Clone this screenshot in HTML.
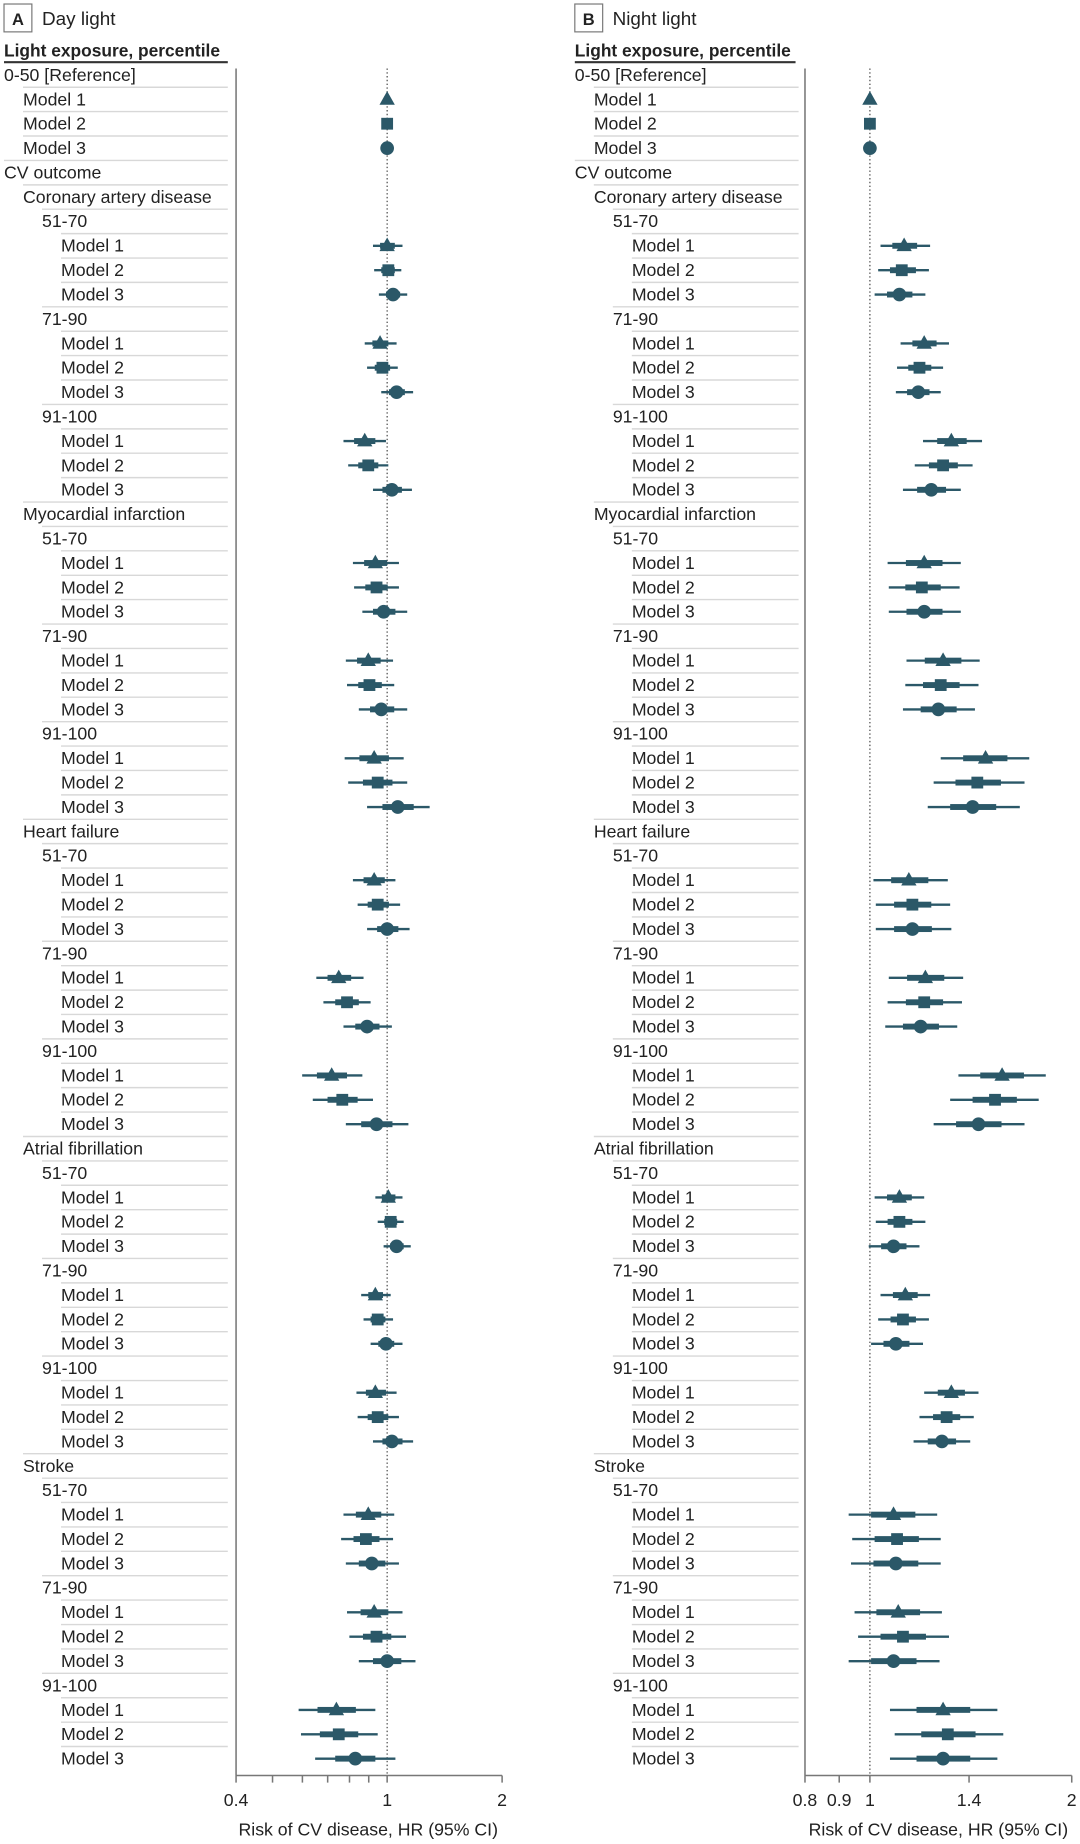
<!DOCTYPE html>
<html><head><meta charset="utf-8"><style>
html,body{margin:0;padding:0;background:#fff;}
svg{display:block;}
text{font-family:"Liberation Sans",sans-serif;font-size:15px;fill:#222;}
.sep{stroke:#d8d8d8;stroke-width:1.2;}
.ci{stroke:#2b5868;stroke-width:2;}
.th{fill:#2b5868;}
.ax{stroke:#777;stroke-width:1.3;fill:none;}
</style></head><body>
<svg width="1080" height="1844" viewBox="0 0 915 1562" preserveAspectRatio="none" xmlns="http://www.w3.org/2000/svg">
<defs>
<polygon id="tri" points="0,-7 6.5,4.5 -6.5,4.5" fill="#2b5868"/>
<rect id="sq" x="-5" y="-5" width="10" height="10" fill="#2b5868"/>
<circle id="ci" r="5.8" fill="#2b5868"/>
</defs>

<!-- Panel A header -->
<rect x="3.4" y="3.4" width="23.6" height="23.6" fill="#fff" stroke="#777" stroke-width="1"/>
<text x="15.2" y="21" text-anchor="middle" style="font-weight:bold;font-size:14px">A</text>
<text x="35.6" y="21" style="font-size:16px">Day light</text>
<text x="3.4" y="48" style="font-weight:bold" textLength="183" lengthAdjust="spacingAndGlyphs">Light exposure, percentile</text>
<line x1="3.4" y1="52.7" x2="193" y2="52.7" stroke="#333" stroke-width="1.8"/>

<!-- Panel B header -->
<rect x="487" y="3.4" width="23.6" height="23.6" fill="#fff" stroke="#777" stroke-width="1"/>
<text x="498.8" y="21" text-anchor="middle" style="font-weight:bold;font-size:14px">B</text>
<text x="519" y="21" style="font-size:16px">Night light</text>
<text x="487" y="48" style="font-weight:bold" textLength="183" lengthAdjust="spacingAndGlyphs">Light exposure, percentile</text>
<line x1="487" y1="52.7" x2="674" y2="52.7" stroke="#333" stroke-width="1.8"/>

<!-- Panel A labels -->
<g>
<text x="3.4" y="68.5">0-50 [Reference]</text>
<text x="19.5" y="89.2">Model 1</text><text x="19.5" y="109.8">Model 2</text><text x="19.5" y="130.5">Model 3</text>
<text x="3.4" y="151.2">CV outcome</text>
<text x="19.5" y="171.9">Coronary artery disease</text>
<text x="35.6" y="192.5">51-70</text>
<text x="51.7" y="213.2">Model 1</text><text x="51.7" y="233.9">Model 2</text><text x="51.7" y="254.5">Model 3</text>
<text x="35.6" y="275.2">71-90</text>
<text x="51.7" y="295.9">Model 1</text><text x="51.7" y="316.5">Model 2</text><text x="51.7" y="337.2">Model 3</text>
<text x="35.6" y="357.9">91-100</text>
<text x="51.7" y="378.6">Model 1</text><text x="51.7" y="399.2">Model 2</text><text x="51.7" y="419.9">Model 3</text>
<text x="19.5" y="440.6">Myocardial infarction</text>
<text x="35.6" y="461.2">51-70</text>
<text x="51.7" y="481.9">Model 1</text><text x="51.7" y="502.6">Model 2</text><text x="51.7" y="523.2">Model 3</text>
<text x="35.6" y="543.9">71-90</text>
<text x="51.7" y="564.6">Model 1</text><text x="51.7" y="585.3">Model 2</text><text x="51.7" y="605.9">Model 3</text>
<text x="35.6" y="626.6">91-100</text>
<text x="51.7" y="647.3">Model 1</text><text x="51.7" y="667.9">Model 2</text><text x="51.7" y="688.6">Model 3</text>
<text x="19.5" y="709.3">Heart failure</text>
<text x="35.6" y="729.9">51-70</text>
<text x="51.7" y="750.6">Model 1</text><text x="51.7" y="771.3">Model 2</text><text x="51.7" y="792">Model 3</text>
<text x="35.6" y="812.6">71-90</text>
<text x="51.7" y="833.3">Model 1</text><text x="51.7" y="854">Model 2</text><text x="51.7" y="874.6">Model 3</text>
<text x="35.6" y="895.3">91-100</text>
<text x="51.7" y="916">Model 1</text><text x="51.7" y="936.6">Model 2</text><text x="51.7" y="957.3">Model 3</text>
<text x="19.5" y="978">Atrial fibrillation</text>
<text x="35.6" y="998.7">51-70</text>
<text x="51.7" y="1019.3">Model 1</text><text x="51.7" y="1040">Model 2</text><text x="51.7" y="1060.7">Model 3</text>
<text x="35.6" y="1081.3">71-90</text>
<text x="51.7" y="1102">Model 1</text><text x="51.7" y="1122.7">Model 2</text><text x="51.7" y="1143.3">Model 3</text>
<text x="35.6" y="1164">91-100</text>
<text x="51.7" y="1184.7">Model 1</text><text x="51.7" y="1205.4">Model 2</text><text x="51.7" y="1226">Model 3</text>
<text x="19.5" y="1246.7">Stroke</text>
<text x="35.6" y="1267.4">51-70</text>
<text x="51.7" y="1288">Model 1</text><text x="51.7" y="1308.7">Model 2</text><text x="51.7" y="1329.4">Model 3</text>
<text x="35.6" y="1350">71-90</text>
<text x="51.7" y="1370.7">Model 1</text><text x="51.7" y="1391.4">Model 2</text><text x="51.7" y="1412.1">Model 3</text>
<text x="35.6" y="1432.7">91-100</text>
<text x="51.7" y="1453.4">Model 1</text><text x="51.7" y="1474.1">Model 2</text><text x="51.7" y="1494.7">Model 3</text>
</g>

<!-- Panel B labels -->
<g transform="translate(483.6,0)">
<text x="3.4" y="68.5">0-50 [Reference]</text>
<text x="19.5" y="89.2">Model 1</text><text x="19.5" y="109.8">Model 2</text><text x="19.5" y="130.5">Model 3</text>
<text x="3.4" y="151.2">CV outcome</text>
<text x="19.5" y="171.9">Coronary artery disease</text>
<text x="35.6" y="192.5">51-70</text>
<text x="51.7" y="213.2">Model 1</text><text x="51.7" y="233.9">Model 2</text><text x="51.7" y="254.5">Model 3</text>
<text x="35.6" y="275.2">71-90</text>
<text x="51.7" y="295.9">Model 1</text><text x="51.7" y="316.5">Model 2</text><text x="51.7" y="337.2">Model 3</text>
<text x="35.6" y="357.9">91-100</text>
<text x="51.7" y="378.6">Model 1</text><text x="51.7" y="399.2">Model 2</text><text x="51.7" y="419.9">Model 3</text>
<text x="19.5" y="440.6">Myocardial infarction</text>
<text x="35.6" y="461.2">51-70</text>
<text x="51.7" y="481.9">Model 1</text><text x="51.7" y="502.6">Model 2</text><text x="51.7" y="523.2">Model 3</text>
<text x="35.6" y="543.9">71-90</text>
<text x="51.7" y="564.6">Model 1</text><text x="51.7" y="585.3">Model 2</text><text x="51.7" y="605.9">Model 3</text>
<text x="35.6" y="626.6">91-100</text>
<text x="51.7" y="647.3">Model 1</text><text x="51.7" y="667.9">Model 2</text><text x="51.7" y="688.6">Model 3</text>
<text x="19.5" y="709.3">Heart failure</text>
<text x="35.6" y="729.9">51-70</text>
<text x="51.7" y="750.6">Model 1</text><text x="51.7" y="771.3">Model 2</text><text x="51.7" y="792">Model 3</text>
<text x="35.6" y="812.6">71-90</text>
<text x="51.7" y="833.3">Model 1</text><text x="51.7" y="854">Model 2</text><text x="51.7" y="874.6">Model 3</text>
<text x="35.6" y="895.3">91-100</text>
<text x="51.7" y="916">Model 1</text><text x="51.7" y="936.6">Model 2</text><text x="51.7" y="957.3">Model 3</text>
<text x="19.5" y="978">Atrial fibrillation</text>
<text x="35.6" y="998.7">51-70</text>
<text x="51.7" y="1019.3">Model 1</text><text x="51.7" y="1040">Model 2</text><text x="51.7" y="1060.7">Model 3</text>
<text x="35.6" y="1081.3">71-90</text>
<text x="51.7" y="1102">Model 1</text><text x="51.7" y="1122.7">Model 2</text><text x="51.7" y="1143.3">Model 3</text>
<text x="35.6" y="1164">91-100</text>
<text x="51.7" y="1184.7">Model 1</text><text x="51.7" y="1205.4">Model 2</text><text x="51.7" y="1226">Model 3</text>
<text x="19.5" y="1246.7">Stroke</text>
<text x="35.6" y="1267.4">51-70</text>
<text x="51.7" y="1288">Model 1</text><text x="51.7" y="1308.7">Model 2</text><text x="51.7" y="1329.4">Model 3</text>
<text x="35.6" y="1350">71-90</text>
<text x="51.7" y="1370.7">Model 1</text><text x="51.7" y="1391.4">Model 2</text><text x="51.7" y="1412.1">Model 3</text>
<text x="35.6" y="1432.7">91-100</text>
<text x="51.7" y="1453.4">Model 1</text><text x="51.7" y="1474.1">Model 2</text><text x="51.7" y="1494.7">Model 3</text>
</g>

<!-- Separators (both panels) -->
<g id="seps" class="sep">
<line x1="19.5" y1="73.9" x2="193" y2="73.9"/>
<line x1="19.5" y1="94.5" x2="193" y2="94.5"/>
<line x1="19.5" y1="115.2" x2="193" y2="115.2"/>
<line x1="3.4" y1="135.9" x2="193" y2="135.9"/>
<line x1="19.5" y1="156.6" x2="193" y2="156.6"/>
<line x1="35.6" y1="177.2" x2="193" y2="177.2"/>
<line x1="51.7" y1="197.9" x2="193" y2="197.9"/>
<line x1="51.7" y1="218.6" x2="193" y2="218.6"/>
<line x1="51.7" y1="239.2" x2="193" y2="239.2"/>
<line x1="35.6" y1="259.9" x2="193" y2="259.9"/>
<line x1="51.7" y1="280.6" x2="193" y2="280.6"/>
<line x1="51.7" y1="301.2" x2="193" y2="301.2"/>
<line x1="51.7" y1="321.9" x2="193" y2="321.9"/>
<line x1="35.6" y1="342.6" x2="193" y2="342.6"/>
<line x1="51.7" y1="363.3" x2="193" y2="363.3"/>
<line x1="51.7" y1="383.9" x2="193" y2="383.9"/>
<line x1="51.7" y1="404.6" x2="193" y2="404.6"/>
<line x1="19.5" y1="425.3" x2="193" y2="425.3"/>
<line x1="35.6" y1="445.9" x2="193" y2="445.9"/>
<line x1="51.7" y1="466.6" x2="193" y2="466.6"/>
<line x1="51.7" y1="487.3" x2="193" y2="487.3"/>
<line x1="51.7" y1="507.9" x2="193" y2="507.9"/>
<line x1="35.6" y1="528.6" x2="193" y2="528.6"/>
<line x1="51.7" y1="549.3" x2="193" y2="549.3"/>
<line x1="51.7" y1="570" x2="193" y2="570"/>
<line x1="51.7" y1="590.6" x2="193" y2="590.6"/>
<line x1="35.6" y1="611.3" x2="193" y2="611.3"/>
<line x1="51.7" y1="632" x2="193" y2="632"/>
<line x1="51.7" y1="652.6" x2="193" y2="652.6"/>
<line x1="51.7" y1="673.3" x2="193" y2="673.3"/>
<line x1="19.5" y1="694" x2="193" y2="694"/>
<line x1="35.6" y1="714.6" x2="193" y2="714.6"/>
<line x1="51.7" y1="735.3" x2="193" y2="735.3"/>
<line x1="51.7" y1="756" x2="193" y2="756"/>
<line x1="51.7" y1="776.7" x2="193" y2="776.7"/>
<line x1="35.6" y1="797.3" x2="193" y2="797.3"/>
<line x1="51.7" y1="818" x2="193" y2="818"/>
<line x1="51.7" y1="838.7" x2="193" y2="838.7"/>
<line x1="51.7" y1="859.3" x2="193" y2="859.3"/>
<line x1="35.6" y1="880" x2="193" y2="880"/>
<line x1="51.7" y1="900.7" x2="193" y2="900.7"/>
<line x1="51.7" y1="921.3" x2="193" y2="921.3"/>
<line x1="51.7" y1="942" x2="193" y2="942"/>
<line x1="19.5" y1="962.7" x2="193" y2="962.7"/>
<line x1="35.6" y1="983.4" x2="193" y2="983.4"/>
<line x1="51.7" y1="1004" x2="193" y2="1004"/>
<line x1="51.7" y1="1024.7" x2="193" y2="1024.7"/>
<line x1="51.7" y1="1045.4" x2="193" y2="1045.4"/>
<line x1="35.6" y1="1066" x2="193" y2="1066"/>
<line x1="51.7" y1="1086.7" x2="193" y2="1086.7"/>
<line x1="51.7" y1="1107.4" x2="193" y2="1107.4"/>
<line x1="51.7" y1="1128" x2="193" y2="1128"/>
<line x1="35.6" y1="1148.7" x2="193" y2="1148.7"/>
<line x1="51.7" y1="1169.4" x2="193" y2="1169.4"/>
<line x1="51.7" y1="1190.1" x2="193" y2="1190.1"/>
<line x1="51.7" y1="1210.7" x2="193" y2="1210.7"/>
<line x1="19.5" y1="1231.4" x2="193" y2="1231.4"/>
<line x1="35.6" y1="1252.1" x2="193" y2="1252.1"/>
<line x1="51.7" y1="1272.7" x2="193" y2="1272.7"/>
<line x1="51.7" y1="1293.4" x2="193" y2="1293.4"/>
<line x1="51.7" y1="1314.1" x2="193" y2="1314.1"/>
<line x1="35.6" y1="1334.7" x2="193" y2="1334.7"/>
<line x1="51.7" y1="1355.4" x2="193" y2="1355.4"/>
<line x1="51.7" y1="1376.1" x2="193" y2="1376.1"/>
<line x1="51.7" y1="1396.8" x2="193" y2="1396.8"/>
<line x1="35.6" y1="1417.4" x2="193" y2="1417.4"/>
<line x1="51.7" y1="1438.1" x2="193" y2="1438.1"/>
<line x1="51.7" y1="1458.8" x2="193" y2="1458.8"/>
<line x1="51.7" y1="1479.4" x2="193" y2="1479.4"/>
</g>
<use href="#seps" transform="translate(483.6,0) scale(1,1)"/>

<!-- Axes A -->
<line class="ax" x1="200" y1="58" x2="200" y2="1504"/>
<line class="ax" x1="200" y1="1504" x2="425.4" y2="1504"/>
<g class="ax">
<line x1="200" y1="1504" x2="200" y2="1510"/><line x1="230.9" y1="1504" x2="230.9" y2="1510"/><line x1="256.2" y1="1504" x2="256.2" y2="1510"/><line x1="277.6" y1="1504" x2="277.6" y2="1510"/><line x1="296.1" y1="1504" x2="296.1" y2="1510"/><line x1="312.4" y1="1504" x2="312.4" y2="1510"/><line x1="328" y1="1504" x2="328" y2="1510"/><line x1="425.4" y1="1504" x2="425.4" y2="1510"/>
</g>
<line x1="328" y1="58" x2="328" y2="1504" stroke="#444" stroke-width="1" stroke-dasharray="1.2,2"/>
<text x="200" y="1530" text-anchor="middle">0.4</text>
<text x="328" y="1530" text-anchor="middle">1</text>
<text x="425.4" y="1530" text-anchor="middle">2</text>
<text x="312" y="1555" text-anchor="middle">Risk of CV disease, HR (95% CI)</text>

<!-- Axes B -->
<line class="ax" x1="682" y1="58" x2="682" y2="1504"/>
<line class="ax" x1="682" y1="1504" x2="908" y2="1504"/>
<g class="ax">
<line x1="682" y1="1504" x2="682" y2="1510"/><line x1="711" y1="1504" x2="711" y2="1510"/><line x1="737" y1="1504" x2="737" y2="1510"/><line x1="821" y1="1504" x2="821" y2="1510"/><line x1="908" y1="1504" x2="908" y2="1510"/>
</g>
<line x1="737" y1="58" x2="737" y2="1504" stroke="#444" stroke-width="1" stroke-dasharray="1.2,2"/>
<text x="682" y="1530" text-anchor="middle">0.8</text>
<text x="711" y="1530" text-anchor="middle">0.9</text>
<text x="737" y="1530" text-anchor="middle">1</text>
<text x="821" y="1530" text-anchor="middle">1.4</text>
<text x="908" y="1530" text-anchor="middle">2</text>
<text x="795" y="1555" text-anchor="middle">Risk of CV disease, HR (95% CI)</text>

<!-- Reference markers -->
<use href="#tri" x="328" y="84.2"/><use href="#sq" x="328" y="104.8"/><use href="#ci" x="328" y="125.5"/>
<use href="#tri" x="737" y="84.2"/><use href="#sq" x="737" y="104.8"/><use href="#ci" x="737" y="125.5"/>

<!-- Panel A data -->
<g class="ci">
<line x1="316" x2="341" y1="208.2" y2="208.2"/><line x1="317" x2="340" y1="228.9" y2="228.9"/><line x1="321" x2="345" y1="249.5" y2="249.5"/>
<line x1="309" x2="336" y1="290.9" y2="290.9"/><line x1="311" x2="337" y1="311.5" y2="311.5"/><line x1="323" x2="350" y1="332.2" y2="332.2"/>
<line x1="291" x2="327" y1="373.6" y2="373.6"/><line x1="295" x2="329" y1="394.2" y2="394.2"/><line x1="316" x2="349" y1="414.9" y2="414.9"/>
<line x1="299" x2="338" y1="476.9" y2="476.9"/><line x1="300" x2="338" y1="497.6" y2="497.6"/><line x1="307" x2="345" y1="518.2" y2="518.2"/>
<line x1="293" x2="333" y1="559.6" y2="559.6"/><line x1="294" x2="334" y1="580.3" y2="580.3"/><line x1="304" x2="345" y1="600.9" y2="600.9"/>
<line x1="292" x2="342" y1="642.3" y2="642.3"/><line x1="295" x2="345" y1="662.9" y2="662.9"/><line x1="311" x2="364" y1="683.6" y2="683.6"/>
<line x1="299" x2="335" y1="745.6" y2="745.6"/><line x1="303" x2="339" y1="766.3" y2="766.3"/><line x1="311" x2="347" y1="787" y2="787"/>
<line x1="268" x2="308" y1="828.3" y2="828.3"/><line x1="274" x2="314" y1="849" y2="849"/><line x1="291" x2="332" y1="869.6" y2="869.6"/>
<line x1="256" x2="307" y1="911" y2="911"/><line x1="265" x2="316" y1="931.6" y2="931.6"/><line x1="293" x2="346" y1="952.3" y2="952.3"/>
<line x1="318" x2="341" y1="1014.3" y2="1014.3"/><line x1="320" x2="342" y1="1035" y2="1035"/><line x1="325" x2="348" y1="1055.7" y2="1055.7"/>
<line x1="306" x2="331" y1="1097" y2="1097"/><line x1="308" x2="333" y1="1117.7" y2="1117.7"/><line x1="314" x2="341" y1="1138.3" y2="1138.3"/>
<line x1="302" x2="336" y1="1179.7" y2="1179.7"/><line x1="303" x2="338" y1="1200.4" y2="1200.4"/><line x1="316" x2="350" y1="1221" y2="1221"/>
<line x1="291" x2="334" y1="1283" y2="1283"/><line x1="289" x2="333" y1="1303.7" y2="1303.7"/><line x1="293" x2="338" y1="1324.4" y2="1324.4"/>
<line x1="294" x2="341" y1="1365.7" y2="1365.7"/><line x1="296" x2="344" y1="1386.4" y2="1386.4"/><line x1="304" x2="352" y1="1407.1" y2="1407.1"/>
<line x1="253" x2="318" y1="1448.4" y2="1448.4"/><line x1="255" x2="320" y1="1469.1" y2="1469.1"/><line x1="267" x2="335" y1="1489.7" y2="1489.7"/>
</g>
<g class="th">
<rect x="322" width="12.5" y="205.7" height="5"/><rect x="323" width="11.5" y="226.4" height="5"/><rect x="327" width="12" y="247" height="5"/>
<rect x="315.5" width="13.5" y="288.4" height="5"/><rect x="317.5" width="13" y="309" height="5"/><rect x="329.5" width="13.5" y="329.7" height="5"/>
<rect x="300" width="18" y="371.1" height="5"/><rect x="303.5" width="17" y="391.7" height="5"/><rect x="324" width="16.5" y="412.4" height="5"/>
<rect x="308.5" width="19.5" y="474.4" height="5"/><rect x="309.5" width="19" y="495.1" height="5"/><rect x="316" width="19" y="515.7" height="5"/>
<rect x="302.5" width="20" y="557.1" height="5"/><rect x="303.5" width="20" y="577.8" height="5"/><rect x="313.5" width="20.5" y="598.4" height="5"/>
<rect x="304.5" width="25" y="639.8" height="5"/><rect x="307.5" width="25" y="660.4" height="5"/><rect x="324" width="26.5" y="681.1" height="5"/>
<rect x="308" width="18" y="743.1" height="5"/><rect x="311.5" width="18" y="763.8" height="5"/><rect x="319.5" width="18" y="784.5" height="5"/>
<rect x="277.5" width="20" y="825.8" height="5"/><rect x="284" width="20" y="846.5" height="5"/><rect x="301" width="20.5" y="867.1" height="5"/>
<rect x="268.5" width="25.5" y="908.5" height="5"/><rect x="277.5" width="25.5" y="929.1" height="5"/><rect x="306" width="26.5" y="949.8" height="5"/>
<rect x="323.5" width="11.5" y="1011.8" height="5"/><rect x="325.5" width="11" y="1032.5" height="5"/><rect x="330.5" width="11.5" y="1053.2" height="5"/>
<rect x="312" width="12.5" y="1094.5" height="5"/><rect x="314" width="12.5" y="1115.2" height="5"/><rect x="320.5" width="13.5" y="1135.8" height="5"/>
<rect x="310" width="17" y="1177.2" height="5"/><rect x="311.5" width="17.5" y="1197.9" height="5"/><rect x="324" width="17" y="1218.5" height="5"/>
<rect x="301.5" width="21.5" y="1280.5" height="5"/><rect x="299.5" width="22" y="1301.2" height="5"/><rect x="304" width="22.5" y="1321.9" height="5"/>
<rect x="305.5" width="23.5" y="1363.2" height="5"/><rect x="307.5" width="24" y="1383.9" height="5"/><rect x="316" width="24" y="1404.6" height="5"/>
<rect x="269" width="32.5" y="1445.9" height="5"/><rect x="271" width="32.5" y="1466.6" height="5"/><rect x="284" width="34" y="1487.2" height="5"/>
</g>
<g>
<use href="#tri" x="328" y="208.2"/><use href="#sq" x="329" y="228.9"/><use href="#ci" x="333" y="249.5"/>
<use href="#tri" x="322" y="290.9"/><use href="#sq" x="324" y="311.5"/><use href="#ci" x="336" y="332.2"/>
<use href="#tri" x="309" y="373.6"/><use href="#sq" x="312" y="394.2"/><use href="#ci" x="332" y="414.9"/>
<use href="#tri" x="318" y="476.9"/><use href="#sq" x="319" y="497.6"/><use href="#ci" x="325" y="518.2"/>
<use href="#tri" x="312" y="559.6"/><use href="#sq" x="313" y="580.3"/><use href="#ci" x="323" y="600.9"/>
<use href="#tri" x="317" y="642.3"/><use href="#sq" x="320" y="662.9"/><use href="#ci" x="337" y="683.6"/>
<use href="#tri" x="317" y="745.6"/><use href="#sq" x="320" y="766.3"/><use href="#ci" x="328" y="787"/>
<use href="#tri" x="287" y="828.3"/><use href="#sq" x="294" y="849"/><use href="#ci" x="311" y="869.6"/>
<use href="#tri" x="281" y="911"/><use href="#sq" x="290" y="931.6"/><use href="#ci" x="319" y="952.3"/>
<use href="#tri" x="329" y="1014.3"/><use href="#sq" x="331" y="1035"/><use href="#ci" x="336" y="1055.7"/>
<use href="#tri" x="318" y="1097"/><use href="#sq" x="320" y="1117.7"/><use href="#ci" x="327" y="1138.3"/>
<use href="#tri" x="318" y="1179.7"/><use href="#sq" x="320" y="1200.4"/><use href="#ci" x="332" y="1221"/>
<use href="#tri" x="312" y="1283"/><use href="#sq" x="310" y="1303.7"/><use href="#ci" x="315" y="1324.4"/>
<use href="#tri" x="317" y="1365.7"/><use href="#sq" x="319" y="1386.4"/><use href="#ci" x="328" y="1407.1"/>
<use href="#tri" x="285" y="1448.4"/><use href="#sq" x="287" y="1469.1"/><use href="#ci" x="301" y="1489.7"/>
</g>

<!-- Panel B data -->
<g class="ci">
<line x1="746" x2="788" y1="208.2" y2="208.2"/><line x1="744" x2="787" y1="228.9" y2="228.9"/><line x1="741" x2="784" y1="249.5" y2="249.5"/>
<line x1="763" x2="804" y1="290.9" y2="290.9"/><line x1="760" x2="799" y1="311.5" y2="311.5"/><line x1="759" x2="797" y1="332.2" y2="332.2"/>
<line x1="782" x2="832" y1="373.6" y2="373.6"/><line x1="775" x2="824" y1="394.2" y2="394.2"/><line x1="765" x2="814" y1="414.9" y2="414.9"/>
<line x1="752" x2="814" y1="476.9" y2="476.9"/><line x1="753" x2="813" y1="497.6" y2="497.6"/><line x1="753" x2="814" y1="518.2" y2="518.2"/>
<line x1="768" x2="830" y1="559.6" y2="559.6"/><line x1="767" x2="829" y1="580.3" y2="580.3"/><line x1="765" x2="826" y1="600.9" y2="600.9"/>
<line x1="797" x2="872" y1="642.3" y2="642.3"/><line x1="791" x2="868" y1="662.9" y2="662.9"/><line x1="786" x2="864" y1="683.6" y2="683.6"/>
<line x1="740" x2="803" y1="745.6" y2="745.6"/><line x1="742" x2="805" y1="766.3" y2="766.3"/><line x1="742" x2="806" y1="787" y2="787"/>
<line x1="753" x2="816" y1="828.3" y2="828.3"/><line x1="752" x2="815" y1="849" y2="849"/><line x1="750" x2="811" y1="869.6" y2="869.6"/>
<line x1="812" x2="886" y1="911" y2="911"/><line x1="805" x2="880" y1="931.6" y2="931.6"/><line x1="791" x2="868" y1="952.3" y2="952.3"/>
<line x1="741" x2="783" y1="1014.3" y2="1014.3"/><line x1="742" x2="784" y1="1035" y2="1035"/><line x1="736" x2="779" y1="1055.7" y2="1055.7"/>
<line x1="746" x2="788" y1="1097" y2="1097"/><line x1="744" x2="787" y1="1117.7" y2="1117.7"/><line x1="738" x2="782" y1="1138.3" y2="1138.3"/>
<line x1="783" x2="829" y1="1179.7" y2="1179.7"/><line x1="779" x2="825" y1="1200.4" y2="1200.4"/><line x1="774" x2="822" y1="1221" y2="1221"/>
<line x1="719" x2="794" y1="1283" y2="1283"/><line x1="722" x2="797" y1="1303.7" y2="1303.7"/><line x1="721" x2="797" y1="1324.4" y2="1324.4"/>
<line x1="724" x2="798" y1="1365.7" y2="1365.7"/><line x1="727" x2="804" y1="1386.4" y2="1386.4"/><line x1="719" x2="796" y1="1407.1" y2="1407.1"/>
<line x1="754" x2="845" y1="1448.4" y2="1448.4"/><line x1="758" x2="850" y1="1469.1" y2="1469.1"/><line x1="754" x2="845" y1="1489.7" y2="1489.7"/>
</g>
<g class="th">
<rect x="756" width="21" y="205.7" height="5"/><rect x="754" width="22" y="226.4" height="5"/><rect x="751.5" width="21.5" y="247" height="5"/>
<rect x="773" width="20.5" y="288.4" height="5"/><rect x="769.5" width="19.5" y="309" height="5"/><rect x="768.5" width="19" y="329.7" height="5"/>
<rect x="794" width="25" y="371.1" height="5"/><rect x="787" width="24.5" y="391.7" height="5"/><rect x="777" width="24.5" y="412.4" height="5"/>
<rect x="767.5" width="31" y="474.4" height="5"/><rect x="767" width="30" y="495.1" height="5"/><rect x="768" width="30.5" y="515.7" height="5"/>
<rect x="783.5" width="31" y="557.1" height="5"/><rect x="782" width="31" y="577.8" height="5"/><rect x="780" width="30.5" y="598.4" height="5"/>
<rect x="816" width="37.5" y="639.8" height="5"/><rect x="809.5" width="38.5" y="660.4" height="5"/><rect x="805" width="39" y="681.1" height="5"/>
<rect x="755" width="31.5" y="743.1" height="5"/><rect x="757.5" width="31.5" y="763.8" height="5"/><rect x="757.5" width="32" y="784.5" height="5"/>
<rect x="768.5" width="31.5" y="825.8" height="5"/><rect x="767.5" width="31.5" y="846.5" height="5"/><rect x="765" width="30.5" y="867.1" height="5"/>
<rect x="830.5" width="37" y="908.5" height="5"/><rect x="824" width="37.5" y="929.1" height="5"/><rect x="810" width="38.5" y="949.8" height="5"/>
<rect x="751.5" width="21" y="1011.8" height="5"/><rect x="752" width="21" y="1032.5" height="5"/><rect x="746.5" width="21.5" y="1053.2" height="5"/>
<rect x="756.5" width="21" y="1094.5" height="5"/><rect x="754.5" width="21.5" y="1115.2" height="5"/><rect x="748.5" width="22" y="1135.8" height="5"/>
<rect x="794.5" width="23" y="1177.2" height="5"/><rect x="790.5" width="23" y="1197.9" height="5"/><rect x="786" width="24" y="1218.5" height="5"/>
<rect x="738" width="37.5" y="1280.5" height="5"/><rect x="741" width="37.5" y="1301.2" height="5"/><rect x="740" width="38" y="1321.9" height="5"/>
<rect x="742.5" width="37" y="1363.2" height="5"/><rect x="746" width="38.5" y="1383.9" height="5"/><rect x="738" width="38.5" y="1404.6" height="5"/>
<rect x="776.5" width="45.5" y="1445.9" height="5"/><rect x="780.5" width="46" y="1466.6" height="5"/><rect x="776.5" width="45.5" y="1487.2" height="5"/>
</g>
<g>
<use href="#tri" x="766" y="208.2"/><use href="#sq" x="764" y="228.9"/><use href="#ci" x="762" y="249.5"/>
<use href="#tri" x="783" y="290.9"/><use href="#sq" x="779" y="311.5"/><use href="#ci" x="778" y="332.2"/>
<use href="#tri" x="806" y="373.6"/><use href="#sq" x="799" y="394.2"/><use href="#ci" x="789" y="414.9"/>
<use href="#tri" x="783" y="476.9"/><use href="#sq" x="781" y="497.6"/><use href="#ci" x="783" y="518.2"/>
<use href="#tri" x="799" y="559.6"/><use href="#sq" x="797" y="580.3"/><use href="#ci" x="795" y="600.9"/>
<use href="#tri" x="835" y="642.3"/><use href="#sq" x="828" y="662.9"/><use href="#ci" x="824" y="683.6"/>
<use href="#tri" x="770" y="745.6"/><use href="#sq" x="773" y="766.3"/><use href="#ci" x="773" y="787"/>
<use href="#tri" x="784" y="828.3"/><use href="#sq" x="783" y="849"/><use href="#ci" x="780" y="869.6"/>
<use href="#tri" x="849" y="911"/><use href="#sq" x="843" y="931.6"/><use href="#ci" x="829" y="952.3"/>
<use href="#tri" x="762" y="1014.3"/><use href="#sq" x="762" y="1035"/><use href="#ci" x="757" y="1055.7"/>
<use href="#tri" x="767" y="1097"/><use href="#sq" x="765" y="1117.7"/><use href="#ci" x="759" y="1138.3"/>
<use href="#tri" x="806" y="1179.7"/><use href="#sq" x="802" y="1200.4"/><use href="#ci" x="798" y="1221"/>
<use href="#tri" x="757" y="1283"/><use href="#sq" x="760" y="1303.7"/><use href="#ci" x="759" y="1324.4"/>
<use href="#tri" x="761" y="1365.7"/><use href="#sq" x="765" y="1386.4"/><use href="#ci" x="757" y="1407.1"/>
<use href="#tri" x="799" y="1448.4"/><use href="#sq" x="803" y="1469.1"/><use href="#ci" x="799" y="1489.7"/>
</g>
</svg>
</body></html>
